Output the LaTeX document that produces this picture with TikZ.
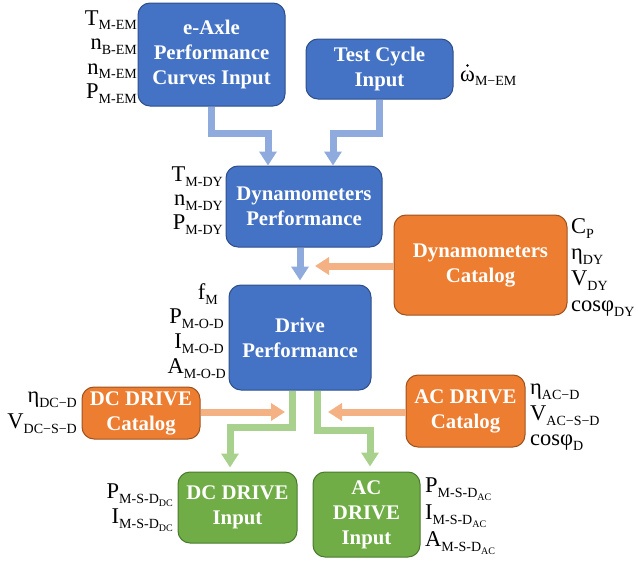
\documentclass[tikz,border=0pt]{standalone}
\usepackage{fontspec}
\setmainfont{Liberation Serif}
\usetikzlibrary{arrows.meta,calc}
\definecolor{bfill}{HTML}{4472C4}
\definecolor{bdraw}{HTML}{2F4F8A}
\definecolor{ofill}{HTML}{ED7D31}
\definecolor{odraw}{HTML}{9E531F}
\definecolor{gfill}{HTML}{70AD47}
\definecolor{gdraw}{HTML}{4A7A2E}
\definecolor{barc}{HTML}{8FAADC}
\definecolor{oarc}{HTML}{F4B183}
\definecolor{garc}{HTML}{A9D18E}
\newcommand{\lv}[2]{#1{\fontsize{14}{14}\selectfont\raisebox{-5pt}{#2}}}
\newcommand{\ssub}[1]{\raisebox{-3pt}{\fontsize{10}{10}\selectfont #1}}
\tikzset{
  box/.style={rounded corners=12pt, draw, line width=1pt, text=white,
    font=\fontsize{20.8}{25}\selectfont\bfseries, align=center, inner sep=0pt},
  bluebox/.style={box, fill=bfill, draw=bdraw},
  orangebox/.style={box, fill=ofill, draw=odraw},
  greenbox/.style={box, fill=gfill, draw=gdraw},
  lbl/.style={font=\fontsize{22.5}{22.5}\selectfont, inner sep=0pt},
  conn/.style={line width=7pt, -{Triangle[length=14pt,width=17pt]}},
  barrow/.style={conn, draw=barc},
  oarrow/.style={conn, draw=oarc},
  garrow/.style={conn, draw=garc},
}
\begin{document}
\begin{tikzpicture}[x=1pt,y=-1pt]
\useasboundingbox (0,0) rectangle (638,562);
% boxes
\node[bluebox, minimum width=147pt, minimum height=103pt] (eaxle) at (211.5,54.5) {e-Axle\\Performance\\Curves Input};
\node[bluebox, minimum width=147pt, minimum height=60pt] (test) at (379.5,69) {Test Cycle\\Input};
\node[bluebox, minimum width=156pt, minimum height=81pt] (dynperf) at (304,206.5) {Dynamometers\\Performance};
\node[orangebox, minimum width=173pt, minimum height=100pt] (dyncat) at (480.5,265) {Dynamometers\\Catalog};
\node[bluebox, minimum width=142pt, minimum height=105pt] (drive) at (300,337.5) {Drive\\Performance};
\node[orangebox, minimum width=118pt, minimum height=52pt] (dccat) at (141,413) {DC DRIVE\\Catalog};
\node[orangebox, minimum width=119pt, minimum height=72pt] (accat) at (465.5,411) {AC DRIVE\\Catalog};
\node[greenbox, minimum width=119pt, minimum height=71pt] (dcin) at (237.5,507.5) {DC DRIVE\\Input};
\node[greenbox, minimum width=107pt, minimum height=85pt] (acin) at (366.5,514.5) {AC\\DRIVE\\Input};
% connectors
\coordinate (j1) at (211.5,133);
\coordinate (j2) at (379.5,133);
\draw[barrow] (eaxle.south) -- (j1) -| ($(dynperf.north)+(-36,0)$);
\draw[barrow] (test.south) -- (j2) -| ($(dynperf.north)+(29,0)$);
\draw[barrow, shorten >=4pt] (dynperf.south -| drive.north) -- (drive.north);
\coordinate (m1) at (315,266);
\draw[oarrow] (dyncat.west |- m1) -- (m1);
\coordinate (m2) at (285,412);
\draw[oarrow] (dccat.east |- m2) -- (m2);
\coordinate (m3) at (328,412);
\draw[oarrow] (accat.west |- m3) -- (m3);
\draw[garrow, shorten >=4pt] ($(drive.south)+(-8,0)$) -- ++(0,37) -| ($(dcin.north)+(-7.5,0)$);
\draw[garrow, shorten >=5pt] ($(drive.south)+(17,0)$) -- ++(0,40) -| ($(acin.north)+(3.5,0)$);
% labels e-Axle
\node[lbl, anchor=base east] (la1) at (137,25) {\lv{T}{M-EM}};
\node[lbl, anchor=base east] (la2) at (137,49.5) {\lv{n}{B-EM}};
\node[lbl, anchor=base east] (la3) at (137,74) {\lv{n}{M-EM}};
\node[lbl, anchor=base east] (la4) at (137,98) {\lv{P}{M-EM}};
% test cycle
\node[lbl, anchor=base west] (lb1) at (460,81) {\lv{ω}{M−EM}};
\fill (lb1.base west) ++(7.5,-15.5) circle (1.3pt);
% dyn perf
\node[lbl, anchor=base east] (lc1) at (223,181) {\lv{T}{M-DY}};
\node[lbl, anchor=base east] (lc2) at (223,205) {\lv{n}{M-DY}};
\node[lbl, anchor=base east] (lc3) at (223,229) {\lv{P}{M-DY}};
% dyn catalog
\node[lbl, anchor=base west] (ld1) at (571,233) {\lv{C}{P}};
\node[lbl, anchor=base west] (ld2) at (571,259) {\lv{η}{DY}};
\node[lbl, anchor=base west] (ld3) at (571,285) {\lv{V}{DY}};
\node[lbl, anchor=base west] (ld4) at (571,311) {\lv{cosφ}{DY}};
% drive perf
\node[lbl, anchor=base east] (le1) at (218,299) {\lv{f}{M}};
\node[lbl, anchor=base east] (le2) at (224,323) {\lv{P}{M-O-D}};
\node[lbl, anchor=base east] (le3) at (224,348) {\lv{I}{M-O-D}};
\node[lbl, anchor=base east] (le4) at (226,373) {\lv{A}{M-O-D}};
% DC catalog
\node[lbl, anchor=base east] (lf1) at (77,402) {\lv{η}{DC−D}};
\node[lbl, anchor=base east] (lf2) at (77,428) {\lv{V}{DC−S−D}};
% AC catalog
\node[lbl, anchor=base west] (lg1) at (530,394) {\lv{η}{AC−D}};
\node[lbl, anchor=base west] (lg2) at (530,420) {\lv{V}{AC−S−D}};
\node[lbl, anchor=base west] (lg3) at (530,445) {\lv{cosφ}{D}};
% DC input
\node[lbl, anchor=base east] (lh1) at (173,498) {\lv{P}{M-S-D\ssub{DC}}};
\node[lbl, anchor=base east] (lh2) at (173,523) {\lv{I}{M-S-D\ssub{DC}}};
% AC input
\node[lbl, anchor=base west] (li1) at (425,492) {\lv{P}{M-S-D\ssub{AC}}};
\node[lbl, anchor=base west] (li2) at (425,519) {\lv{I}{M-S-D\ssub{AC}}};
\node[lbl, anchor=base west] (li3) at (425,546) {\lv{A}{M-S-D\ssub{AC}}};
\end{tikzpicture}
\end{document}
